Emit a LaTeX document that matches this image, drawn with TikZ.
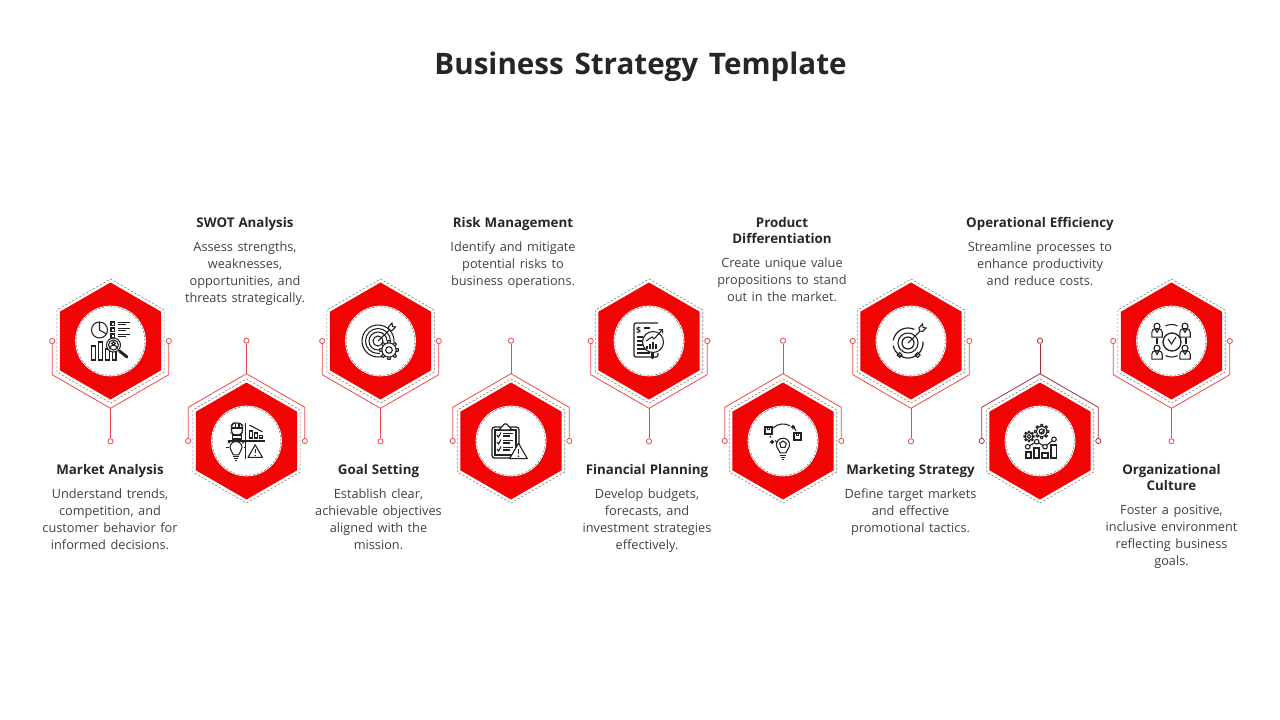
\documentclass[tikz,border=0pt]{standalone}
\usepackage{fontspec}
\setmainfont{Open Sans}
\usetikzlibrary{arrows.meta, positioning, shapes.geometric, calc}
\definecolor{hexred}{RGB}{240,4,4}
\definecolor{wirered}{RGB}{238,70,70}
\definecolor{wiredark}{RGB}{160,50,55}
\definecolor{dashgray}{RGB}{130,130,130}
\definecolor{headink}{RGB}{38,38,38}
\definecolor{bodyink}{RGB}{64,64,64}
\definecolor{iconink}{RGB}{34,34,34}
\begin{document}
\begin{tikzpicture}[
      x=0.75pt, y=-0.75pt,
      hexbox/.style={regular polygon, regular polygon sides=6, shape border rotate=-30, minimum size=87.75pt, inner sep=0pt, fill=hexred},
      hexdash/.style={regular polygon, regular polygon sides=6, shape border rotate=-30, minimum size=93pt, inner sep=0pt, draw=dashgray, line width=0.45pt, dash pattern=on 1.8pt off 1.2pt},
      hexframe/.style={regular polygon, regular polygon sides=6, shape border rotate=-30, minimum size=100.5pt, inner sep=0pt},
      disc/.style={circle, minimum size=53pt, inner sep=0pt, fill=white},
      discdash/.style={circle, minimum size=51.5pt, inner sep=0pt, draw=dashgray, line width=0.45pt, dash pattern=on 1.8pt off 1.2pt},
      pindot/.style={circle, minimum size=3.9pt, inner sep=0pt, fill=white, draw=#1, line width=0.6pt},
      wire/.style={draw=#1, line width=0.6pt},
      headtext/.style={font={\fontsize{10}{12}\selectfont\bfseries\spaceskip=.3em\relax}, text=headink, align=center, inner sep=0pt, text depth=2.6pt},
      bodytext/.style={font={\fontsize{9.55}{12.75}\selectfont\spaceskip=.36em\relax}, text=bodyink, align=center, inner sep=0pt, below=8pt of #1},
      gearcog/.pic={
        \fill[white] (0,0) circle[radius=10];
        \draw (0,0) circle[radius=7.5];
        \draw (0,0) circle[radius=3.5];
        \foreach \a in {0,45,...,315} {
          \draw ({\a-11}:7.5) -- ({\a-7}:10) -- ({\a+7}:10) -- ({\a+11}:7.5);
        }
      },
      warnsign/.pic={
        \draw[fill=white, line join=round] (0,-8) -- (-8,6) -- (8,6) -- cycle;
        \draw[line width=1pt] (0,-3) -- (0,1.5);
        \fill (0,3.8) circle[radius=0.8];
      },
      lampbulb/.pic={
        \draw (-2.6,5.4) .. controls (-3,2.5) and (-6,1.5) .. (-6,-2) arc[start angle=180, end angle=360, radius=6] .. controls (6,1.5) and (3,2.5) .. (2.6,5.4) -- cycle;
        \draw (-2.6,7.4) -- (2.6,7.4);
        \draw (-2.2,9.4) -- (2.2,9.4);
        \draw (-1,11.2) -- (1,11.2);
      },
      staffer/.pic={
        \draw (0,-4.5) circle[radius=3.2];
        \draw (-5.5,7) -- (-5.5,2) arc[start angle=180, end angle=270, radius=4] -- (1.5,-2) arc[start angle=270, end angle=360, radius=4] -- (5.5,7) -- cycle;
        \draw (-2,-1.5) -- (0,2) -- (2,-1.5);
      }
    ]

      \useasboundingbox (0,0) rectangle (1280,720);

      % Title
      \node[font={\fontsize{22.2}{26}\selectfont\bfseries\spaceskip=.36em\relax}, text=headink, inner sep=0pt] (title) at (640.5,66.5) {Business Strategy Template};

      % Hexagons with dashed ring, white disc and wire frame
      \foreach \i/\x/\y in {1/110.5/341, 2/246.5/441, 3/380.5/341, 4/511/441, 5/649/341, 6/783/441, 7/911/341, 8/1040/441, 9/1171.5/341} {
        \node[hexdash] (ring\i) at (\x,\y) {};
        \node[hexbox] (hex\i) at (\x,\y) {};
        \node[disc] (disc\i) at (\x,\y) {};
        \node[discdash] (discring\i) at (\x,\y) {};
        \node[hexframe] (frame\i) at (\x,\y) {};
      }

      % Upper hexagons - wire runs under the hexagon
      \foreach \i in {1,3,5,7,9} {
        \node[pindot=wirered] (pinl\i) at (frame\i.corner 4 |- hex\i.center) {};
        \node[pindot=wirered] (pinr\i) at (frame\i.corner 6 |- hex\i.center) {};
        \node[pindot=wirered] (pinc\i) at ([yshift=-24.75pt]frame\i.corner 5) {};
        \draw[wire=wirered] (pinl\i) -- (frame\i.corner 4) -- (frame\i.corner 5) -- (frame\i.corner 6) -- (pinr\i);
        \draw[wire=wirered] (frame\i.corner 5) -- (pinc\i);
      }

      % Lower hexagons - wire runs over the hexagon
      \foreach \i/\c in {2/wirered, 4/wirered, 6/wirered, 8/wiredark} {
        \node[pindot=\c] (pinl\i) at (frame\i.corner 3 |- hex\i.center) {};
        \node[pindot=\c] (pinr\i) at (frame\i.corner 1 |- hex\i.center) {};
        \node[pindot=\c] (pinc\i) at ([yshift=24.75pt]frame\i.corner 2) {};
        \draw[wire=\c] (pinl\i) -- (frame\i.corner 3) -- (frame\i.corner 2) -- (frame\i.corner 1) -- (pinr\i);
        \draw[wire=\c] (frame\i.corner 2) -- (pinc\i);
      }

      % Labels below
      \node[headtext, anchor=north] (market) at (110,464) {Market Analysis};
      \node[bodytext=market] (marketbody) {Understand trends,\\competition, and\\customer behavior for\\informed decisions.};
      \node[headtext, anchor=north] (goal) at (378.5,464) {Goal Setting};
      \node[bodytext=goal] (goalbody) {Establish clear,\\achievable objectives\\aligned with the\\mission.};
      \node[headtext, anchor=north] (finance) at (647,464) {Financial Planning};
      \node[bodytext=finance] (financebody) {Develop budgets,\\forecasts, and\\investment strategies\\effectively.};
      \node[headtext, anchor=north] (marketing) at (910.5,464) {Marketing Strategy};
      \node[bodytext=marketing] (marketingbody) {Define target markets\\and effective\\promotional tactics.};
      \node[headtext, anchor=north] (culture) at (1171.5,464) {Organizational\\Culture};
      \node[bodytext=culture] (culturebody) {Foster a positive,\\inclusive environment\\reflecting business\\goals.};

      % Labels above
      \node[headtext, anchor=north] (swot) at (245,217) {SWOT Analysis};
      \node[bodytext=swot] (swotbody) {Assess strengths,\\weaknesses,\\opportunities, and\\threats strategically.};
      \node[headtext, anchor=north] (risk) at (513,217) {Risk Management};
      \node[bodytext=risk] (riskbody) {Identify and mitigate\\potential risks to\\business operations.};
      \node[headtext, anchor=north] (product) at (782,217) {Product\\Differentiation};
      \node[bodytext=product] (productbody) {Create unique value\\propositions to stand\\out in the market.};
      \node[headtext, anchor=north] (efficiency) at (1040,217) {Operational Efficiency};
      \node[bodytext=efficiency] (efficiencybody) {Streamline processes to\\enhance productivity\\and reduce costs.};

      % Icon 1 - charts and magnifier
      \begin{scope}[shift={(hex1.center)}, iconink, line width=0.8pt]
        \draw (-11,-11) circle[radius=8];
        \draw (-11,-19) -- (-11,-11) -- (-4,-7);
        \draw (-19,19) rectangle (-15,5);
        \draw (-12,19) rectangle (-8,1);
        \draw (-5,19) rectangle (-1,8);
        \draw (2,19) rectangle (5.5,9);
        \foreach \r in {-19,-13,-7} {
          \draw (0.5,\r) rectangle ++(3.5,3.5);
          \draw (7,\r+0.6) -- (19,\r+0.6);
          \draw (7,\r+2.8) -- (15,\r+2.8);
        }
        \draw[fill=white] (3,4) circle[radius=7];
        \draw (3,4) circle[radius=5];
        \draw (3,2.5) circle[radius=1.8];
        \draw (-0.5,7.5) arc[start angle=180, end angle=360, radius=3.5];
        \draw[line width=2.2pt, line cap=round] (9,10) -- (16.5,16);
      \end{scope}

      % Icon 2 - SWOT quadrants
      \begin{scope}[shift={(hex2.center)}, iconink, line width=0.8pt]
        \draw[line width=1pt] (-1,-18) -- (-1,18);
        \draw[line width=1pt] (-19,0) -- (18,0);
        \draw[rounded corners=1.5pt] (-15,-16) -- (-15,-8) -- (-12.5,-6) -- (-6,-6) -- (-4,-9) -- (-4,-16) -- (-7,-18) -- (-13,-18) -- cycle;
        \draw (-15,-13) -- (-4,-13);
        \draw (-11,-18) -- (-11,-13);
        \draw (-7.5,-18) -- (-7.5,-13);
        \draw (-14,-6) rectangle (-5,-2);
        \draw (3,-3) rectangle (6,-10);
        \draw (8,-3) rectangle (11,-8);
        \draw (13,-3) rectangle (16,-5.5);
        \draw (3,-16) -- (16,-9);
        \pic at (-10.5,8.5) {lampbulb};
        \foreach \a in {180,215,250,290,325,360} {
          \draw ($(-10.5,6.5)+(\a:7.5)$) -- ($(-10.5,6.5)+(\a:10)$);
        }
        \pic[scale=0.9] at (8.7,11) {warnsign};
      \end{scope}

      % Icon 3 - target with gear
      \begin{scope}[shift={(hex3.center)}, iconink, line width=0.8pt]
        \foreach \r in {16,12.5,9,5} {
          \draw (-2.5,0) circle[radius=\r];
        }
        \draw (-2.5,0) -- (9,-11);
        \draw (8,-14) -- (8.5,-11) -- (11.5,-10.5) -- (15,-14) -- (12,-14.5) -- (11.5,-18) -- cycle;
        \pic[scale=0.95] at (8.5,9) {gearcog};
      \end{scope}

      % Icon 4 - checklist with warning
      \begin{scope}[shift={(hex4.center)}, iconink, line width=0.8pt]
        \draw[line width=1pt, rounded corners=2pt] (-19,-14) rectangle (8,17);
        \draw (-16,-11) rectangle (5,14);
        \draw[fill=white, rounded corners=1pt] (-11,-11) -- (-11,-14) -- (-8,-14) -- (-8,-17) -- (-3,-17) -- (-3,-14) -- (0,-14) -- (0,-11) -- cycle;
        \foreach \r in {-6,1,8} {
          \draw (-14,\r) -- (-12.5,\r+2) -- (-10,\r-2.5);
          \draw (-8,\r-1.5) -- (2,\r-1.5);
          \draw (-8,\r+1) -- (-1,\r+1);
        }
        \pic[scale=1.1] at (7.5,11) {warnsign};
      \end{scope}

      % Icon 5 - report with growth magnifier
      \begin{scope}[shift={(hex5.center)}, iconink, line width=0.8pt]
        \draw[line width=0.9pt, rounded corners=1.5pt] (9,-18) -- (-15,-18) -- (-15,16) -- (9,16) -- (9,12);
        \node[font=\fontsize{6.5}{7}\selectfont\bfseries, inner sep=0pt] (dollar) at (-10.5,-11) {\$};
        \draw (-5,-13) -- (1,-13);
        \draw (-12,-4) -- (-6,-4);
        \draw (-12,0) -- (-7,0);
        \draw (-12,4) -- (-6,4);
        \draw (-12,8) -- (6,8);
        \draw (-12,12) -- (1,12);
        \draw[fill=white] (4,1) circle[radius=10.5];
        \draw (-3,0) -- (3,-4) -- (5,-2);
        \draw[-{Straight Barb[length=2pt]}] (5,-2) -- (14,-12);
        \foreach \b/\h in {-2/3, 1/5, 4/7, 7/5} {
          \draw (\b,8) -- (\b,8-\h);
        }
        \draw[line width=1.8pt, line cap=round] (3.5,12) -- (3.5,17);
      \end{scope}

      % Icon 6 - idea bulb with boxes
      \begin{scope}[shift={(hex6.center)}, iconink, line width=0.8pt]
        \pic[scale=1.1] at (0,6) {lampbulb};
        \draw ($(0,3.5)+(270:3.5)$) -- ($(0,3.5)+(342:3.5)$) -- ($(0,3.5)+(54:3.5)$) -- ($(0,3.5)+(126:3.5)$) -- ($(0,3.5)+(198:3.5)$) -- cycle;
        \draw[line width=0.9pt] (-18,-14) rectangle (-11,-7);
        \draw[line width=0.9pt] (11,-8) rectangle (18,-1);
        \draw (-15.5,-14) -- (-15.5,-11.5) -- (-13.5,-11.5) -- (-13.5,-14);
        \draw (13.5,-8) -- (13.5,-5.5) -- (15.5,-5.5) -- (15.5,-8);
        \draw (-10,-13) .. controls (-5,-18) and (3,-18) .. (7,-15);
        \draw (11,-13.5) -- (13,-10);
        \draw (-13,-5) -- (-12,-3.5);
        \draw (-8,-0.5) -- (-6,1.5);
        \fill (9,-15) -- (10,-16.5) -- (11,-15) -- (12.5,-14) -- (11,-13) -- (10,-11.5) -- (9,-13) -- (7.5,-14) -- cycle;
        \fill (-12,0) -- (-11,-1.5) -- (-10,0) -- (-8.5,1) -- (-10,2) -- (-11,3.5) -- (-12,2) -- (-13.5,1) -- cycle;
      \end{scope}

      % Icon 7 - target on stand
      \begin{scope}[shift={(hex7.center)}, iconink, line width=0.8pt]
        \draw[line width=0.9pt] (-3,2) ++(-5:15) arc[start angle=-5, end angle=170, radius=15];
        \draw[line width=0.9pt] (-3,2) ++(190:15) arc[start angle=190, end angle=295, radius=15];
        \draw (-3,2) circle[radius=10];
        \draw[line width=0.9pt] (-3,2) circle[radius=6];
        \draw (-3,2) -- (9,-10);
        \draw (8,-13) -- (8.5,-10) -- (11.5,-9.5) -- (15,-13) -- (12,-13.5) -- (11.5,-17) -- cycle;
        \draw (-14,14) -- (-11.5,11.5) -- (-9,14) -- (-11.5,16.5) -- cycle;
        \draw (4,14) -- (6.5,11.5) -- (9,14) -- (6.5,16.5) -- cycle;
      \end{scope}

      % Icon 8 - gears over bar chart
      \begin{scope}[shift={(hex8.center)}, iconink, line width=0.8pt]
        \draw (-14,17) rectangle (-9,11);
        \draw (-6,17) rectangle (-1,7);
        \draw (2,17) rectangle (8,12);
        \draw (11,17) rectangle (16.7,4);
        \draw (-12.3,5.7) -- (-3.3,0.7) -- (5,5.7) -- (14,-1.7);
        \foreach \px/\py in {-12.3/5.7, -3.3/0.7, 5/5.7, 14/-1.7} {
          \draw[fill=white] (\px,\py) circle[radius=2.3];
        }
        \pic[scale=0.52] at (-11,-4.5) {gearcog};
        \pic[scale=0.72] at (1.7,-9.5) {gearcog};
        \draw (-1,-9.5) -- (1,-7.5) -- (4.5,-11.5);
      \end{scope}

      % Icon 9 - team around a circle
      \begin{scope}[shift={(hex9.center)}, iconink, line width=0.8pt]
        \draw[line width=1pt] (0.5,1) circle[radius=9];
        \draw (-3.5,-2) -- (0,3) -- (4.5,-4);
        \draw (-6,-15) .. controls (-3,-17) and (3,-17) .. (6,-15);
        \draw (-6,14.5) .. controls (-3,16.5) and (3,16.5) .. (6,14.5);
        \draw (-14.5,-3) -- (-14.5,3);
        \draw (14.5,-3) -- (14.5,3);
        \foreach \sx/\sy in {-14.5/-10.5, 13.5/-10.5, -14.5/11.5, 13.5/11.5} {
          \pic[scale=0.95] at (\sx,\sy) {staffer};
        }
      \end{scope}

    \end{tikzpicture}
\end{document}
